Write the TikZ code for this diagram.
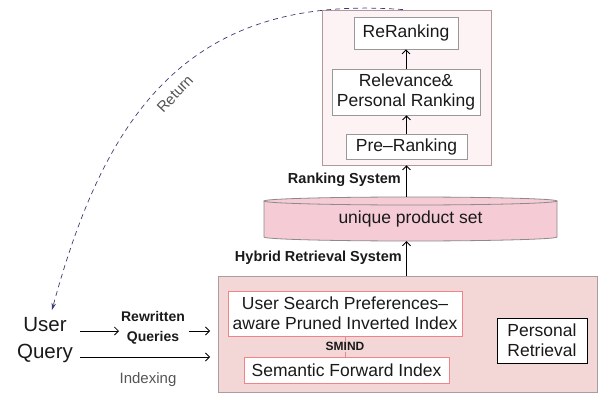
\documentclass[tikz,border=0pt]{standalone}
\usepackage{fontspec}
\setmainfont{Liberation Sans}
\usetikzlibrary{arrows.meta}
\definecolor{rankfill}{HTML}{FDF3F5}
\definecolor{rankdraw}{HTML}{B3979B}
\definecolor{cylfill}{HTML}{F5CCD5}
\definecolor{cyldraw}{HTML}{8E8A8B}
\definecolor{retrfill}{HTML}{F3D6D6}
\definecolor{retrdraw}{HTML}{A89E9F}
\definecolor{redbox}{HTML}{F2838A}
\definecolor{navy}{HTML}{3B3B7A}
\definecolor{txt}{HTML}{1A1A1A}
\definecolor{graytxt}{HTML}{555555}
\newcommand{\fbig}{\fontsize{17.5}{21}\selectfont}
\newcommand{\fuser}{\fontsize{20.5}{27}\selectfont}
\newcommand{\fbold}{\fontsize{14.5}{20}\selectfont\bfseries}
\begin{document}
\begin{tikzpicture}[x=1pt,y=-1pt,
  every node/.style={text=txt},
  graybox/.style={draw=gray!80, fill=white, line width=0.8pt, font=\fbig, align=center, inner sep=0pt},
  redframe/.style={draw=redbox, fill=white, line width=0.8pt, font=\fbig, align=center, inner sep=0pt},
  blackbox/.style={draw=black, fill=white, line width=0.8pt, font=\fbig, align=center, inner sep=0pt},
  arr/.style={line width=0.8pt, -{Straight Barb[length=4pt,width=8pt]}},
  lbl/.style={font=\fbold, inner sep=0pt}
]
\useasboundingbox (0,0) rectangle (605,393);

% Ranking system
\node[draw=rankdraw, fill=rankfill, line width=0.8pt, minimum width=169, minimum height=155, inner sep=0pt] (rank) at (406.5,87.5) {};
\node[graybox, minimum width=104, minimum height=32] (rerank) at (406,33) {ReRanking};
\node[graybox, minimum width=148, minimum height=46] (relev) at (406,92) {Relevance\&\\[-1pt]Personal Ranking};
\node[graybox, minimum width=121, minimum height=25] (pre) at (406.5,146.5) {Pre{\char"2013}Ranking};
\draw[arr] (pre.north) -- (pre.north |- relev.south);
\draw[arr] (relev.north) -- (relev.north |- rerank.south);

% cylinder
\path[fill=cylfill] (264,201) -- (264,237) arc[start angle=180,end angle=0,x radius=146.5,y radius=4] -- (557,201) arc[start angle=0,end angle=-180,x radius=146.5,y radius=4] -- cycle;
\draw[cyldraw, line width=0.8pt] (264,201) -- (264,237) arc[start angle=180,end angle=0,x radius=146.5,y radius=4] -- (557,201);
\draw[cyldraw, line width=0.8pt] (410.5,201) ellipse[x radius=146.5, y radius=4];
\node[minimum width=293, minimum height=44, inner sep=0pt, font=\fbig] (cyl) at (410.5,219) {unique product set};

% Retrieval system
\node[draw=retrdraw, fill=retrfill, line width=0.8pt, minimum width=379, minimum height=116, inner sep=0pt] (retr) at (407.5,334) {};
\node[redframe, minimum width=234, minimum height=45] (inv) at (345,313.5) {User Search Preferences{\char"2013}\\[-1pt]aware Pruned Inverted Index};
\node[redframe, minimum width=205, minimum height=26] (sem) at (346.5,370) {Semantic Forward Index};
\node[blackbox, minimum width=90, minimum height=45] (pers) at (542,340.5) {Personal\\[-1pt]Retrieval};
\draw[redbox, line width=0.6pt] (inv.south) -- node[fill=retrfill, inner sep=1pt, font=\fontsize{12}{14}\selectfont\bfseries]{SMIND} (inv.south |- sem.north);

% connectors between systems
\draw[arr] (rank.south |- cyl.north) -- (rank.south);
\node[lbl, anchor=east] (ranklbl) at (401,180) {Ranking System};
\draw[arr] (retr.north -| rank.south) -- (rank.south |- cyl.south);
\node[lbl, anchor=east] (hyblbl) at (402,258) {Hybrid Retrieval System};

% user query
\node[font=\fuser, align=center, inner sep=0pt] (uq) at (45,340) {User\\Query};
\node[font=\fontsize{14}{20}\selectfont\bfseries, align=center, inner sep=0pt] (rq) at (153,328) {Rewritten\\Queries};
\coordinate (u1) at (80,331);
\coordinate (u2) at (119,331);
\coordinate (u3) at (189,331);
\coordinate (u4) at (210,331);
\coordinate (l1) at (80,357);
\coordinate (l2) at (210,357);
\draw[arr] (u1) -- (u2);
\draw[arr] (u3) -- (u4);
\draw[arr] (l1) -- (l2);
\node[font=\fontsize{15}{18}\selectfont, text=graytxt, inner sep=0pt] (idx) at (148,380) {Indexing};

% return curve
\coordinate (ret) at (52,310);
\draw[navy, line width=0.7pt, dash pattern=on 5pt off 4pt, -{Stealth[length=7pt,width=4.5pt]}]
  (rank.north -| 403,0) .. controls (188,-7) and (105,115) .. (ret);
\node[font=\fontsize{15}{18}\selectfont, text=graytxt, inner sep=0pt] (rlbl) at (175,94) {\rotatebox{47}{Return}};
\end{tikzpicture}
\end{document}
